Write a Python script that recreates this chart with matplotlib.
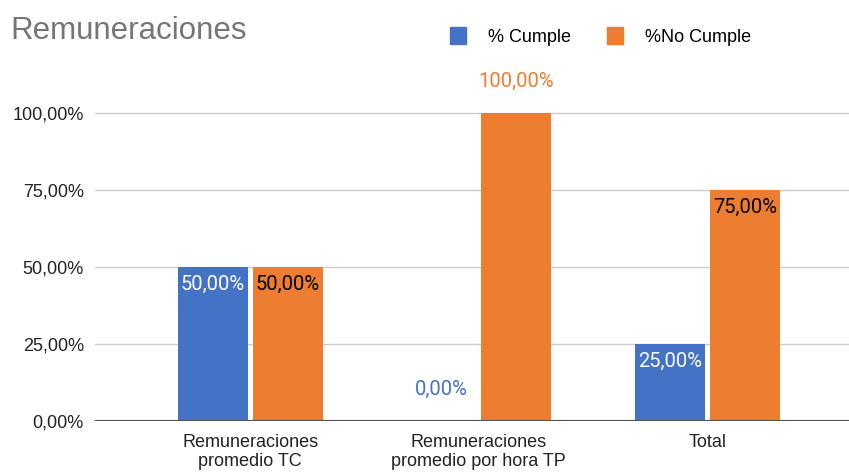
import matplotlib
matplotlib.use("Agg")
from matplotlib import pyplot as plt
from matplotlib.patches import Patch

categories = ["Remuneraciones\npromedio TC", "Remuneraciones\npromedio por hora TP", "Total"]
cumple = [50.0, 0.0, 25.0]
no_cumple = [50.0, 100.0, 75.0]
series_names = ["% Cumple", "%No Cumple"]
yticks = [0, 25, 50, 75, 100]

blue = "#4472c4"
orange = "#ed7d31"

plt.rcParams['font.family'] = ['Liberation Sans', 'DejaVu Sans']

fig = plt.figure(figsize=(8.49, 4.72), dpi=100)
ax = fig.add_axes([0.112, 0.108, 0.888, 0.718])

x = list(range(len(categories)))
w = 0.306
off = 0.164
b1 = ax.bar([i - off for i in x], cumple, width=w, color=blue, zorder=3)
b2 = ax.bar([i + off for i in x], no_cumple, width=w, color=orange, zorder=3)


def fmt(v):
    return f"{v:.2f}".replace(".", ",") + "%"


lab_font = dict(fontsize=14.5, family=['Roboto', 'DejaVu Sans'])
for bars, vals, inside_col in [(b1, cumple, "white"), (b2, no_cumple, "black")]:
    for rect, v in zip(bars, vals):
        cx = rect.get_x() + rect.get_width() / 2
        if v == 0:
            ax.annotate(fmt(v), (cx, v), xytext=(0, 16), textcoords="offset points",
                        ha="center", va="bottom", color=blue, **lab_font)
        elif v >= 100:
            ax.annotate(fmt(v), (cx, v), xytext=(0, 16), textcoords="offset points",
                        ha="center", va="bottom", color=orange, **lab_font)
        else:
            ax.annotate(fmt(v), (cx, v), xytext=(0, -6), textcoords="offset points",
                        ha="center", va="top", color=inside_col, **lab_font)

ax.set_xlim(-0.678, 2.62)
ax.set_ylim(0, 110)
ax.set_yticks(yticks, [fmt(t) for t in yticks])
ax.set_xticks(x, categories)
ax.tick_params(length=0, labelsize=13, colors="#222222")
ax.tick_params(axis="y", pad=8)
ax.tick_params(axis="x", pad=9)
ax.grid(axis="y", color="#cccccc", linewidth=1, zorder=0)
ax.axhline(0, color="#555555", linewidth=1.6, zorder=4)
for s in ax.spines.values():
    s.set_visible(False)

fig.text(0.012, 0.935, "Remuneraciones", fontsize=22.5, color="#757575", va="center")

handles = [Patch(color=blue), Patch(color=orange)]
fig.legend(handles, series_names, loc="center", bbox_to_anchor=(0.707, 0.923), ncol=2,
           frameon=False, fontsize=13, handlelength=0.9, handleheight=1.1,
           columnspacing=2.0, handletextpad=1.2)

fig.savefig("out.png", dpi=100)
